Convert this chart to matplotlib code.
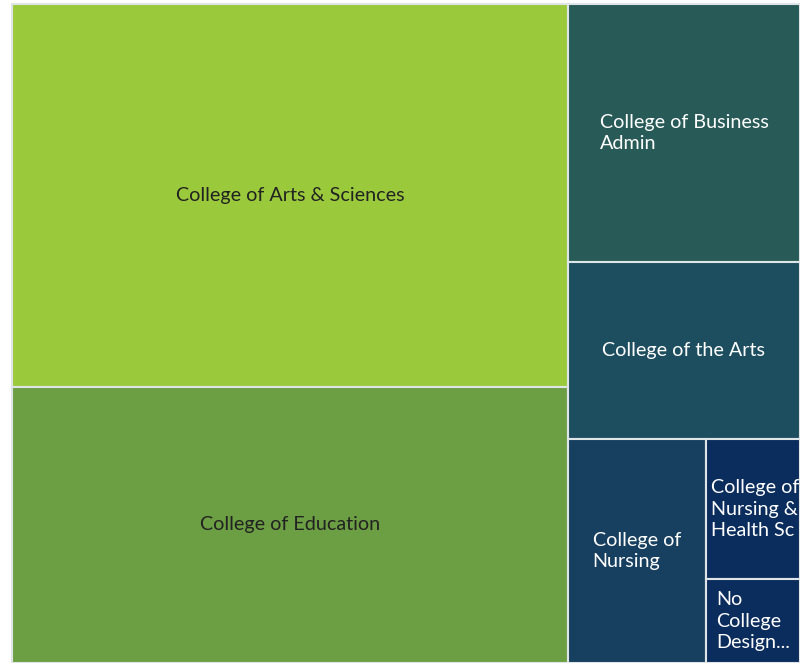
import matplotlib.pyplot as plt
from matplotlib.patches import Rectangle

# tiles, largest first (relative sizes)
labels = ['College of Arts & Sciences', 'College of Education',
          'College of Business\nAdmin', 'College of the Arts',
          'College of\nNursing', 'College of\nNursing &\nHealth Sc',
          'No\nCollege\nDesign...']
values = [2129, 1535, 599, 411, 309, 132, 79]
colors = ['#9aca3c', '#6c9f43', '#285a57', '#1d4e60', '#173f5f', '#0b2d5d', '#0b2d5d']
text_colors = ['#222222', '#222222', 'white', 'white', 'white', 'white', 'white']


def worst(row, side):
    s = sum(row)
    return max(max(side * side * r / (s * s), s * s / (side * side * r)) for r in row)


def squarify(vals, x, y, w, h):
    # classic squarified layout, vals already scaled to area
    rects = []
    vals = list(vals)
    while vals:
        side = min(w, h)
        row = [vals.pop(0)]
        while vals and worst(row + [vals[0]], side) <= worst(row, side):
            row.append(vals.pop(0))
        s = sum(row)
        if w >= h:
            cw = s / h
            cy = y
            for r in row:
                rects.append((x, cy, cw, r / cw))
                cy += r / cw
            x += cw
            w -= cw
        else:
            rh = s / w
            cx = x
            for r in row:
                rects.append((cx, y, r / rh, rh))
                cx += r / rh
            y += rh
            h -= rh
    return rects


X0, Y0, W, H = 12, 4, 788, 659
total = sum(values)
areas = [v / total * W * H for v in values]
rects = squarify(areas, X0, Y0, W, H)

fig = plt.figure(figsize=(8, 6.63), dpi=100)
ax = fig.add_axes([0, 0, 1, 1])
ax.set_xlim(0, 800)
ax.set_ylim(663, 0)
ax.axis('off')

renderer = fig.canvas.get_renderer()
for (x, y, w, h), lab, c, tc in zip(rects, labels, colors, text_colors):
    ax.add_patch(Rectangle((x, y), w, h, facecolor=c, edgecolor='#dfe5e6', linewidth=1.5))
    t = ax.text(x + w / 2, y + h / 2, lab, ha='center', va='center', color=tc,
                fontsize=14.2, family='Lato', linespacing=1.35, multialignment='left')
    # labels wider than the tile start at the left padding and get clipped
    if t.get_window_extent(renderer).width > w - 10:
        t.set_x(x + 5)
        t.set_ha('left')
    t.set_clip_path(Rectangle((x, y), w, h, transform=ax.transData))

plt.savefig('out.png', dpi=100)
